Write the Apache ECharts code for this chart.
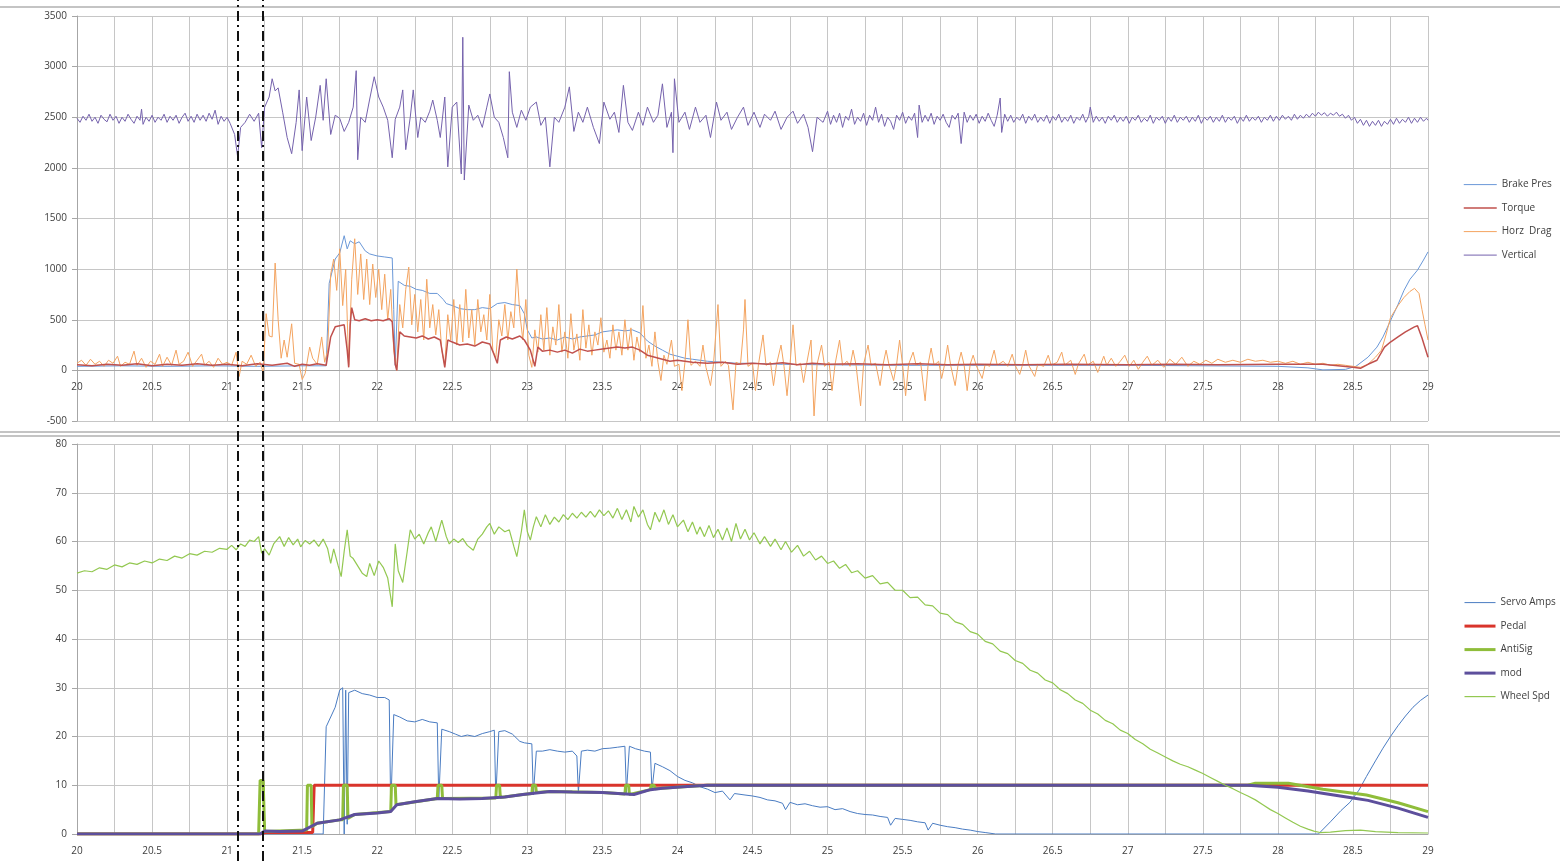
<!DOCTYPE html>
<html>
<head>
<meta charset="utf-8">
<title>Brake test traces</title>
<script src="https://cdn.jsdelivr.net/npm/echarts@6/dist/echarts.min.js"></script>
<style>
  html, body { margin: 0; padding: 0; background: #fff; }
  #main { width: 1560px; height: 861px; }
</style>
</head>
<body>
<div id="main"></div>
<script>
// legend names
var topNames = ['Brake Pres', 'Torque', 'Horz  Drag', 'Vertical'];
var bottomNames = ['Servo Amps', 'Pedal', 'AntiSig', 'mod', 'Wheel Spd'];

// the two dash-dot event markers (time)
var eventTimes = [21.07, 21.24];

// top panel  [time, value]
var brakePres = [[20.00,40],[20.3,45],[20.6,40],[20.9,45],[21.2,40],[21.5,45],[21.66,45],[21.68,860],[21.72,1100],[21.75,1160],[21.78,1330],[21.80,1200],[21.82,1280],[21.85,1250],[21.88,1270],[21.92,1180],[21.95,1150],[22.00,1130],[22.05,1120],[22.10,1110],[22.11,600],[22.12,50],[22.14,880],[22.18,840],[22.22,830],[22.26,800],[22.30,790],[22.35,760],[22.40,760],[22.44,700],[22.46,660],[22.50,640],[22.55,610],[22.60,600],[22.65,600],[22.70,620],[22.75,610],[22.80,660],[22.85,670],[22.90,650],[22.95,640],[22.98,560],[23.00,400],[23.03,320],[23.06,330],[23.10,310],[23.15,320],[23.20,300],[23.25,330],[23.30,310],[23.35,330],[23.40,340],[23.45,350],[23.50,380],[23.55,390],[23.60,400],[23.65,390],[23.70,400],[23.75,370],[23.80,290],[23.85,240],[23.90,200],[23.95,160],[24.00,140],[24.05,120],[24.10,110],[24.20,90],[24.30,80],[24.40,70],[24.50,70],[24.7,60],[25.0,55],[25.5,50],[26.0,50],[26.5,50],[27.0,50],[27.5,45],[28.0,40],[28.2,25],[28.3,5],[28.45,10],[28.52,40],[28.60,130],[28.66,230],[28.70,330],[28.75,490],[28.80,650],[28.84,790],[28.88,900],[28.93,990],[28.97,1090],[29.00,1170]];

var torque = [[20.00,55],[20.1,45],[20.2,60],[20.3,50],[20.4,65],[20.5,45],[20.6,60],[20.7,50],[20.8,65],[20.9,50],[21.0,60],[21.1,45],[21.2,65],[21.3,50],[21.4,70],[21.45,40],[21.5,60],[21.55,50],[21.6,65],[21.66,50],[21.69,330],[21.72,430],[21.75,440],[21.78,450],[21.80,200],[21.81,30],[21.82,450],[21.83,620],[21.85,500],[21.88,490],[21.92,510],[21.96,490],[22.00,500],[22.04,490],[22.08,510],[22.10,480],[22.12,60],[22.13,0],[22.15,380],[22.18,340],[22.22,330],[22.26,320],[22.30,340],[22.34,310],[22.38,330],[22.42,300],[22.44,120],[22.45,30],[22.47,300],[22.50,280],[22.55,250],[22.60,260],[22.65,240],[22.70,280],[22.75,260],[22.78,150],[22.80,70],[22.82,300],[22.86,330],[22.90,310],[22.95,340],[22.98,300],[23.02,200],[23.05,40],[23.07,230],[23.10,190],[23.15,200],[23.20,180],[23.25,200],[23.30,170],[23.35,210],[23.40,190],[23.45,200],[23.50,210],[23.55,220],[23.60,230],[23.65,220],[23.70,230],[23.75,200],[23.80,150],[23.85,130],[23.90,110],[23.95,90],[24.00,100],[24.10,80],[24.20,70],[24.30,80],[24.40,60],[24.50,70],[24.6,60],[24.7,75],[24.8,55],[24.9,70],[25.0,60],[25.2,65],[25.4,55],[25.6,65],[25.8,55],[26.0,60],[26.3,55],[26.6,60],[27.0,55],[27.3,60],[27.6,55],[28.0,60],[28.3,60],[28.5,30],[28.55,20],[28.6,60],[28.66,100],[28.71,230],[28.75,280],[28.80,330],[28.85,380],[28.91,430],[28.93,440],[28.96,320],[29.00,130]];

var horzDrag = [[20.00,70],[20.03,100],[20.06,50],[20.09,110],[20.12,60],[20.15,90],[20.18,40],[20.21,100],[20.24,70],[20.27,140],[20.29,40],[20.32,80],[20.35,60],[20.38,190],[20.40,50],[20.43,120],[20.46,30],[20.49,90],[20.52,60],[20.55,160],[20.57,40],[20.60,130],[20.63,50],[20.66,200],[20.68,60],[20.71,90],[20.74,180],[20.77,40],[20.80,100],[20.83,160],[20.85,50],[20.88,90],[20.91,30],[20.94,120],[20.97,60],[21.00,80],[21.03,50],[21.06,180],[21.08,-60],[21.10,90],[21.13,60],[21.16,150],[21.19,40],[21.22,80],[21.24,-20],[21.26,560],[21.28,340],[21.30,330],[21.32,1060],[21.34,500],[21.36,120],[21.38,300],[21.40,130],[21.43,460],[21.45,70],[21.48,60],[21.50,-90],[21.52,-30],[21.55,230],[21.57,120],[21.60,60],[21.63,330],[21.65,80],[21.67,200],[21.69,950],[21.71,1100],[21.73,790],[21.75,1200],[21.77,640],[21.79,1000],[21.81,50],[21.83,900],[21.85,1300],[21.87,750],[21.89,1150],[21.91,700],[21.93,1100],[21.95,650],[21.97,1050],[21.99,720],[22.01,1000],[22.03,600],[22.05,950],[22.07,500],[22.09,800],[22.11,200],[22.13,0],[22.15,650],[22.17,420],[22.19,800],[22.21,1020],[22.23,450],[22.25,750],[22.27,380],[22.29,700],[22.31,300],[22.33,900],[22.35,420],[22.37,650],[22.39,350],[22.41,600],[22.43,200],[22.45,50],[22.47,550],[22.49,300],[22.51,700],[22.53,250],[22.55,650],[22.57,280],[22.59,800],[22.61,320],[22.63,600],[22.65,250],[22.67,700],[22.69,380],[22.71,550],[22.73,300],[22.75,750],[22.77,200],[22.79,120],[22.81,500],[22.83,340],[22.85,650],[22.87,300],[22.89,580],[22.91,420],[22.93,1000],[22.95,560],[22.97,300],[22.99,700],[23.01,150],[23.03,30],[23.05,400],[23.07,180],[23.09,550],[23.11,200],[23.13,620],[23.15,150],[23.17,430],[23.19,250],[23.21,650],[23.23,180],[23.25,380],[23.27,120],[23.29,560],[23.31,200],[23.33,360],[23.35,100],[23.37,600],[23.39,220],[23.41,450],[23.43,150],[23.45,380],[23.47,250],[23.49,520],[23.51,180],[23.53,300],[23.55,120],[23.57,450],[23.59,200],[23.61,380],[23.63,150],[23.65,500],[23.67,200],[23.69,420],[23.71,100],[23.73,330],[23.75,180],[23.77,640],[23.79,120],[23.81,250],[23.83,40],[23.85,380],[23.87,80],[23.89,-100],[23.91,150],[23.93,60],[23.96,300],[23.98,40],[24.01,60],[24.03,-200],[24.05,80],[24.07,500],[24.09,50],[24.12,90],[24.15,40],[24.17,250],[24.19,30],[24.22,-150],[24.24,60],[24.27,650],[24.29,40],[24.32,90],[24.34,50],[24.37,-390],[24.39,80],[24.42,60],[24.44,400],[24.45,700],[24.47,40],[24.50,70],[24.52,-200],[24.54,60],[24.57,350],[24.59,50],[24.62,80],[24.64,-150],[24.66,60],[24.69,250],[24.71,40],[24.73,-250],[24.75,60],[24.77,450],[24.79,50],[24.82,70],[24.84,-120],[24.86,60],[24.89,300],[24.91,-450],[24.93,60],[24.96,250],[24.98,40],[25.01,80],[25.03,-200],[25.05,60],[25.08,300],[25.10,50],[25.13,90],[25.15,40],[25.17,200],[25.19,50],[25.22,-350],[25.24,60],[25.27,250],[25.29,50],[25.32,70],[25.35,-150],[25.37,60],[25.39,200],[25.41,50],[25.44,-100],[25.46,60],[25.48,300],[25.50,50],[25.52,-250],[25.54,60],[25.57,180],[25.59,50],[25.62,80],[25.65,-300],[25.67,60],[25.69,220],[25.71,50],[25.74,90],[25.76,-80],[25.78,60],[25.80,250],[25.82,50],[25.85,-150],[25.87,60],[25.89,180],[25.91,50],[25.93,-200],[25.95,60],[25.97,150],[25.99,50],[26.03,-80],[26.05,60],[26.08,40],[26.11,200],[26.13,50],[26.17,90],[26.20,40],[26.23,160],[26.25,50],[26.28,-40],[26.30,60],[26.32,200],[26.34,50],[26.38,-60],[26.40,60],[26.44,40],[26.47,150],[26.49,50],[26.53,80],[26.56,180],[26.58,50],[26.62,100],[26.65,-40],[26.67,60],[26.71,160],[26.73,50],[26.77,90],[26.80,-20],[26.82,60],[26.84,140],[26.86,50],[26.89,120],[26.92,40],[26.95,90],[26.98,150],[27.01,40],[27.04,100],[27.07,10],[27.10,80],[27.13,140],[27.16,50],[27.20,100],[27.24,30],[27.28,110],[27.32,60],[27.36,130],[27.40,40],[27.44,90],[27.48,60],[27.52,100],[27.56,70],[27.60,110],[27.65,80],[27.70,100],[27.75,80],[27.80,110],[27.85,90],[27.90,100],[27.95,80],[28.00,90],[28.05,70],[28.10,90],[28.15,60],[28.20,80],[28.25,60],[28.30,70],[28.35,50],[28.40,60],[28.45,50],[28.50,40],[28.55,30],[28.60,60],[28.65,130],[28.69,200],[28.72,350],[28.75,520],[28.80,640],[28.84,720],[28.88,780],[28.91,810],[28.94,760],[28.96,600],[28.98,450],[29.00,300]];

var vertical = [[20.00,2490],[20.02,2450],[20.04,2510],[20.06,2470],[20.08,2530],[20.10,2460],[20.12,2500],[20.14,2440],[20.16,2520],[20.18,2480],[20.20,2455],[20.22,2530],[20.24,2470],[20.26,2510],[20.28,2440],[20.30,2500],[20.32,2460],[20.34,2530],[20.36,2480],[20.38,2440],[20.40,2510],[20.42,2470],[20.43,2580],[20.44,2430],[20.46,2500],[20.48,2460],[20.50,2520],[20.52,2450],[20.54,2500],[20.56,2470],[20.58,2530],[20.60,2450],[20.62,2510],[20.64,2470],[20.66,2520],[20.68,2440],[20.70,2500],[20.72,2540],[20.74,2460],[20.76,2510],[20.78,2450],[20.80,2530],[20.82,2470],[20.84,2520],[20.86,2460],[20.88,2540],[20.90,2480],[20.92,2570],[20.94,2430],[20.96,2510],[20.98,2460],[21.00,2500],[21.02,2440],[21.05,2330],[21.07,2110],[21.09,2400],[21.12,2450],[21.15,2530],[21.18,2460],[21.21,2540],[21.23,2200],[21.25,2600],[21.28,2700],[21.30,2880],[21.32,2760],[21.34,2790],[21.37,2550],[21.40,2300],[21.43,2140],[21.46,2450],[21.48,2770],[21.50,2170],[21.53,2700],[21.56,2270],[21.59,2500],[21.62,2815],[21.64,2470],[21.66,2880],[21.69,2330],[21.72,2520],[21.75,2490],[21.78,2360],[21.81,2450],[21.84,2600],[21.86,2960],[21.87,2080],[21.89,2500],[21.92,2450],[21.95,2680],[21.98,2900],[22.01,2700],[22.04,2600],[22.07,2470],[22.10,2100],[22.12,2480],[22.15,2600],[22.17,2770],[22.19,2180],[22.22,2500],[22.24,2770],[22.27,2300],[22.29,2500],[22.32,2450],[22.35,2560],[22.37,2670],[22.40,2470],[22.42,2300],[22.45,2700],[22.47,2010],[22.50,2600],[22.53,2650],[22.56,1940],[22.57,3290],[22.58,1880],[22.61,2620],[22.64,2470],[22.67,2520],[22.70,2400],[22.73,2600],[22.75,2730],[22.78,2500],[22.81,2450],[22.84,2300],[22.87,2100],[22.88,2950],[22.90,2550],[22.93,2400],[22.96,2570],[22.99,2470],[23.02,2600],[23.06,2650],[23.09,2420],[23.12,2500],[23.15,2010],[23.18,2500],[23.21,2450],[23.25,2600],[23.28,2800],[23.31,2360],[23.34,2550],[23.37,2450],[23.40,2600],[23.44,2400],[23.48,2240],[23.51,2650],[23.55,2480],[23.58,2550],[23.61,2350],[23.64,2815],[23.67,2450],[23.70,2370],[23.74,2550],[23.77,2420],[23.80,2600],[23.84,2450],[23.87,2520],[23.90,2830],[23.93,2400],[23.96,2550],[23.97,2150],[23.98,2880],[24.01,2450],[24.05,2550],[24.08,2380],[24.12,2600],[24.15,2450],[24.19,2520],[24.22,2300],[24.26,2650],[24.29,2470],[24.33,2550],[24.36,2380],[24.40,2500],[24.44,2600],[24.47,2420],[24.51,2550],[24.55,2400],[24.58,2530],[24.62,2470],[24.65,2560],[24.69,2380],[24.73,2500],[24.77,2560],[24.80,2440],[24.84,2530],[24.87,2400],[24.90,2160],[24.93,2500],[24.97,2450],[25.00,2560],[25.02,2430],[25.04,2520],[25.06,2450],[25.08,2540],[25.10,2400],[25.12,2510],[25.14,2470],[25.16,2580],[25.18,2430],[25.20,2500],[25.22,2460],[25.24,2540],[25.26,2420],[25.28,2520],[25.30,2470],[25.32,2600],[25.34,2450],[25.36,2530],[25.38,2410],[25.40,2500],[25.42,2460],[25.44,2380],[25.46,2520],[25.48,2470],[25.50,2550],[25.52,2440],[25.54,2510],[25.56,2470],[25.58,2540],[25.60,2300],[25.61,2620],[25.63,2450],[25.65,2520],[25.67,2460],[25.69,2540],[25.71,2430],[25.73,2510],[25.75,2470],[25.77,2530],[25.79,2450],[25.81,2400],[25.83,2520],[25.85,2480],[25.87,2540],[25.89,2240],[25.91,2550],[25.93,2450],[25.95,2520],[25.97,2470],[25.99,2530],[26.01,2440],[26.03,2510],[26.05,2460],[26.07,2540],[26.09,2470],[26.11,2410],[26.13,2520],[26.15,2690],[26.16,2350],[26.18,2530],[26.20,2460],[26.22,2520],[26.24,2450],[26.26,2500],[26.28,2470],[26.30,2530],[26.32,2440],[26.34,2510],[26.36,2470],[26.38,2530],[26.40,2450],[26.42,2500],[26.44,2460],[26.46,2520],[26.48,2440],[26.50,2510],[26.52,2470],[26.54,2530],[26.56,2450],[26.58,2500],[26.60,2460],[26.62,2520],[26.64,2440],[26.66,2500],[26.68,2470],[26.70,2530],[26.72,2450],[26.74,2510],[26.75,2600],[26.77,2450],[26.79,2510],[26.81,2460],[26.83,2500],[26.85,2440],[26.87,2510],[26.89,2470],[26.91,2520],[26.93,2450],[26.95,2500],[26.97,2460],[26.99,2510],[27.01,2440],[27.03,2500],[27.05,2470],[27.07,2520],[27.09,2450],[27.11,2490],[27.13,2460],[27.15,2520],[27.17,2440],[27.19,2500],[27.21,2470],[27.23,2510],[27.25,2440],[27.27,2500],[27.29,2460],[27.31,2520],[27.33,2450],[27.35,2500],[27.37,2470],[27.39,2510],[27.41,2450],[27.43,2500],[27.45,2460],[27.47,2520],[27.49,2440],[27.51,2500],[27.53,2470],[27.55,2510],[27.57,2450],[27.59,2500],[27.61,2460],[27.63,2520],[27.65,2450],[27.67,2500],[27.69,2470],[27.71,2510],[27.73,2440],[27.75,2500],[27.77,2460],[27.79,2520],[27.81,2460],[27.83,2500],[27.85,2470],[27.87,2510],[27.89,2450],[27.91,2500],[27.93,2470],[27.95,2520],[27.97,2460],[27.99,2510],[28.01,2470],[28.03,2520],[28.05,2480],[28.07,2510],[28.09,2470],[28.11,2530],[28.13,2480],[28.15,2520],[28.17,2490],[28.19,2530],[28.21,2500],[28.23,2540],[28.25,2510],[28.27,2550],[28.29,2520],[28.31,2545],[28.33,2510],[28.35,2540],[28.37,2520],[28.39,2550],[28.41,2510],[28.43,2530],[28.45,2490],[28.47,2520],[28.49,2470],[28.51,2500],[28.53,2440],[28.55,2480],[28.57,2420],[28.59,2470],[28.61,2410],[28.63,2460],[28.65,2420],[28.67,2470],[28.69,2410],[28.71,2460],[28.73,2430],[28.75,2480],[28.77,2430],[28.79,2490],[28.81,2440],[28.83,2480],[28.85,2450],[28.87,2500],[28.89,2440],[28.91,2490],[28.93,2450],[28.95,2500],[28.97,2460],[28.99,2490],[29.00,2470]];

// bottom panel [time, value]
var servoAmps = [[20,0],[21.64,0],[21.66,22],[21.69,24],[21.72,26],[21.75,29.5],[21.77,30],[21.78,0],[21.79,29.5],[21.80,2],[21.81,29],[21.85,29.5],[21.9,28.8],[21.95,28.5],[22.0,28],[22.05,28],[22.08,27.5],[22.09,5],[22.11,24.5],[22.15,24],[22.2,23.2],[22.25,23],[22.3,23.5],[22.35,23],[22.40,22.8],[22.41,7],[22.43,21.5],[22.48,21],[22.52,20.5],[22.56,20],[22.6,20.3],[22.65,20],[22.7,20.6],[22.75,21],[22.78,21.3],[22.79,7.5],[22.81,21],[22.85,21.2],[22.9,20.5],[22.95,19],[22.98,18.7],[23.03,18.5],[23.04,8],[23.06,17],[23.1,17],[23.15,17.3],[23.2,17],[23.25,16.8],[23.3,17],[23.33,16],[23.34,8.5],[23.36,17],[23.4,17.2],[23.45,17],[23.5,17.5],[23.55,17.6],[23.6,17.8],[23.65,18],[23.66,8.5],[23.68,18],[23.72,17.5],[23.78,17],[23.82,16.8],[23.83,9],[23.85,14.5],[23.9,13.8],[23.95,13],[24.0,11.8],[24.05,11],[24.1,10.5],[24.15,9.7],[24.2,9.2],[24.25,8.5],[24.3,8.8],[24.35,7],[24.38,8.3],[24.45,8],[24.5,7.8],[24.55,7.5],[24.6,7],[24.65,6.8],[24.7,6.3],[24.72,5],[24.75,6.5],[24.8,6],[24.85,6.2],[24.9,5.8],[24.95,5.5],[25.0,5.6],[25.05,5],[25.1,5.2],[25.15,4.6],[25.2,4.2],[25.25,4],[25.3,3.9],[25.35,3.6],[25.4,3.4],[25.42,1.8],[25.45,3.2],[25.5,3],[25.55,2.8],[25.6,2.5],[25.65,2.3],[25.67,0.8],[25.7,2.2],[25.75,1.8],[25.8,1.5],[25.85,1.3],[25.9,1.0],[25.95,0.8],[26.0,0.5],[26.05,0.3],[26.12,0],[28.27,0],[28.35,2.5],[28.42,4.8],[28.48,6.5],[28.54,9],[28.59,11.8],[28.65,15],[28.7,17.6],[28.75,20],[28.8,22.2],[28.85,24.2],[28.9,26],[28.95,27.4],[29.0,28.5]];

var pedal = [[20,0],[21.22,0],[21.25,0.3],[21.57,0.3],[21.58,10],[29,10]];

var antiSig = [[20,0],[21.21,0],[21.22,11],[21.24,11],[21.25,0.5],[21.53,0.8],[21.535,10],[21.56,10],[21.565,1.5],[21.6,2.2],[21.75,2.9],[21.77,2.9],[21.775,10],[21.80,10],[21.805,3.2],[21.85,4],[22.09,4.6],[22.095,10],[22.12,10],[22.125,6],[22.40,7.3],[22.405,10],[22.43,10],[22.435,7.3],[22.79,7.4],[22.795,10],[22.815,10],[22.82,7.5],[22.97,8.1],[23.03,8.3],[23.035,10],[23.055,10],[23.06,8.5],[23.15,8.7],[23.5,8.5],[23.65,8.2],[23.655,10],[23.675,10],[23.68,8.1],[23.82,9.1],[23.825,10],[23.845,10],[23.85,9.3],[24.04,9.7],[24.2,10],[27.8,10],[27.85,10.4],[28.07,10.4],[28.3,9.2],[28.59,8.0],[28.8,6.4],[29.0,4.6]];

var modSig = [[20,0],[21.22,0],[21.25,0.6],[21.35,0.5],[21.5,0.6],[21.6,2.2],[21.75,2.9],[21.85,4],[22.0,4.3],[22.09,4.6],[22.13,6],[22.25,6.6],[22.4,7.3],[22.55,7.2],[22.7,7.3],[22.85,7.6],[22.97,8.1],[23.15,8.7],[23.3,8.6],[23.5,8.5],[23.71,8.1],[23.82,9.1],[23.9,9.4],[24.04,9.7],[24.2,10],[27.8,10],[28.0,9.6],[28.2,8.8],[28.5,7.4],[28.6,6.9],[28.8,5.3],[29.0,3.4]];

var wheelSpd = [[20.00,53.5],[20.05,54],[20.10,53.8],[20.15,54.6],[20.20,54.3],[20.25,55.2],[20.30,54.8],[20.35,55.6],[20.40,55.3],[20.45,56.0],[20.50,55.6],[20.55,56.4],[20.60,56.1],[20.65,57.0],[20.70,56.6],[20.75,57.5],[20.80,57.2],[20.85,58.0],[20.90,57.8],[20.95,58.6],[21.00,58.4],[21.03,59.2],[21.06,58.3],[21.09,59.5],[21.12,59.0],[21.15,60.3],[21.18,60.0],[21.21,61.0],[21.23,57.6],[21.25,58.5],[21.28,57.2],[21.31,59.5],[21.35,61.0],[21.38,59.0],[21.41,60.8],[21.44,59.3],[21.47,60.5],[21.49,58.9],[21.52,60.2],[21.55,59.5],[21.58,60.3],[21.61,59.0],[21.64,60.5],[21.67,58.5],[21.69,55.5],[21.71,58.5],[21.74,55.0],[21.76,52.8],[21.78,58.0],[21.80,62.4],[21.82,57.0],[21.84,56.5],[21.87,55.0],[21.90,53.5],[21.93,52.8],[21.95,55.5],[21.98,53.0],[22.01,56.0],[22.04,54.7],[22.07,52.5],[22.10,46.6],[22.12,59.5],[22.14,54.0],[22.17,51.6],[22.20,58.0],[22.22,62.4],[22.25,60.5],[22.28,61.5],[22.31,59.5],[22.34,61.8],[22.36,63.0],[22.39,60.0],[22.43,64.4],[22.46,61.0],[22.48,59.5],[22.51,60.5],[22.54,59.8],[22.57,60.6],[22.60,59.2],[22.64,58.2],[22.67,60.5],[22.70,61.5],[22.73,63.0],[22.75,63.7],[22.78,61.5],[22.81,63.0],[22.85,62.0],[22.88,62.4],[22.91,59.0],[22.93,56.9],[22.96,62.0],[22.98,66.5],[23.00,62.0],[23.02,60.3],[23.04,63.0],[23.06,65.1],[23.09,63.0],[23.12,65.5],[23.15,63.5],[23.18,65.0],[23.21,64.0],[23.24,65.5],[23.27,64.5],[23.30,65.8],[23.33,64.8],[23.36,66.0],[23.39,65.0],[23.42,66.2],[23.45,65.0],[23.48,66.5],[23.51,65.3],[23.54,66.3],[23.57,64.8],[23.60,66.8],[23.63,64.5],[23.66,66.5],[23.69,64.0],[23.71,67.2],[23.74,65.0],[23.77,66.5],[23.80,63.5],[23.82,62.4],[23.85,66.0],[23.88,64.0],[23.91,66.5],[23.94,63.5],[23.97,65.5],[24.00,63.0],[24.04,64.4],[24.07,62.0],[24.10,64.0],[24.13,61.5],[24.15,63.0],[24.18,61.0],[24.21,63.3],[24.24,60.8],[24.27,62.5],[24.30,60.3],[24.33,62.8],[24.36,60.0],[24.39,63.7],[24.42,60.5],[24.45,62.5],[24.48,60.3],[24.51,61.8],[24.55,59.5],[24.58,61.0],[24.62,59.0],[24.65,60.5],[24.69,58.3],[24.72,60.0],[24.76,57.8],[24.80,59.2],[24.84,57.0],[24.88,58.0],[24.92,56.2],[24.96,57.0],[25.00,55.5],[25.04,56.0],[25.08,54.5],[25.12,55.3],[25.16,53.6],[25.20,54.0],[25.25,52.5],[25.30,53.0],[25.35,51.3],[25.40,51.6],[25.45,50.0],[25.50,50.0],[25.55,48.5],[25.60,48.6],[25.65,47.0],[25.70,46.8],[25.75,45.3],[25.80,45.0],[25.85,43.5],[25.90,43.0],[25.95,41.5],[26.00,41.0],[26.05,39.5],[26.10,39.0],[26.15,37.5],[26.20,37.0],[26.25,35.6],[26.30,35.0],[26.35,33.6],[26.40,33.0],[26.45,31.6],[26.50,31.0],[26.55,29.6],[26.60,28.8],[26.65,27.5],[26.70,26.8],[26.75,25.4],[26.80,24.6],[26.85,23.3],[26.90,22.6],[26.95,21.3],[27.00,20.6],[27.05,19.4],[27.10,18.5],[27.15,17.4],[27.20,16.6],[27.25,15.8],[27.30,15.0],[27.35,14.3],[27.40,13.8],[27.45,13.1],[27.50,12.4],[27.55,11.6],[27.60,10.8],[27.65,10.0],[27.70,9.3],[27.75,8.5],[27.80,7.8],[27.85,7.0],[27.90,6.0],[27.95,5.0],[28.00,4.2],[28.05,3.3],[28.10,2.4],[28.15,1.6],[28.20,1.0],[28.24,0.6],[28.28,0.3],[28.35,0.4],[28.45,0.7],[28.55,0.8],[28.65,0.5],[28.80,0.3],[29.00,0.2]];

var chart = echarts.init(document.getElementById('main'));

var labelFont = { fontSize: 10, color: '#404040', fontFamily: 'Open Sans' };
var gridGrey = '#c6c6c6';

function timeAxis(idx, offset) {
  return {
    gridIndex: idx, type: 'value', min: 20, max: 29, interval: 0.5,
    position: 'bottom', offset: offset,
    axisLine: { onZero: false, lineStyle: { color: '#a6a6a6' } },
    axisTick: { show: false },
    axisLabel: Object.assign({ margin: 12 }, labelFont),
    splitLine: { lineStyle: { color: gridGrey } },
    minorTick: { show: false, splitNumber: 2 },
    minorSplitLine: { show: true, lineStyle: { color: gridGrey } }
  };
}
function valueAxis(idx, min, max, step) {
  return {
    gridIndex: idx, type: 'value', min: min, max: max, interval: step,
    axisLine: { show: true, lineStyle: { color: '#a6a6a6' } },
    axisTick: { show: true, length: 5, lineStyle: { color: '#a6a6a6' } },
    axisLabel: Object.assign({ margin: 10, formatter: function (v) { return String(v); } }, labelFont),
    splitLine: { lineStyle: { color: gridGrey } }
  };
}
function trace(name, data, color, width, axis) {
  return {
    name: name, type: 'line', data: data, xAxisIndex: axis, yAxisIndex: axis,
    symbol: 'none', showSymbol: false, silent: true,
    lineStyle: { color: color, width: width }, itemStyle: { color: color }
  };
}
function legendBox(top, width, gap, names) {
  return {
    orient: 'vertical', left: 1463, top: top, padding: 0,
    itemWidth: width, itemHeight: 14, itemGap: gap,
    selectedMode: false, textStyle: labelFont,
    lineStyle: { width: 'inherit' },
    itemStyle: { color: 'rgba(0,0,0,0)', borderWidth: 0, opacity: 0 },
    data: names
  };
}

chart.setOption({
  animation: false,
  backgroundColor: '#fff',
  grid: [
    { left: 77, right: 132, top: 16, bottom: 440 },
    { left: 77, right: 132, top: 444, bottom: 27 },
    { left: 77, right: 132, top: 0, bottom: 0 }
  ],
  xAxis: [
    timeAxis(0, -51),
    timeAxis(1, 0),
    { gridIndex: 2, type: 'value', min: 20, max: 29, show: false }
  ],
  yAxis: [
    valueAxis(0, -500, 3500, 500),
    valueAxis(1, 0, 80, 10),
    { gridIndex: 2, type: 'value', min: 0, max: 1, show: false }
  ],
  legend: [
    legendBox(179, 33, 12.3, topNames),
    legendBox(597, 31, 12.3, bottomNames)
  ],
  graphic: [
    { type: 'line', shape: { x1: 0, y1: 7, x2: 1560, y2: 7 }, style: { stroke: '#c4c4c4', lineWidth: 2 }, silent: true },
    { type: 'line', shape: { x1: 0, y1: 432, x2: 1560, y2: 432 }, style: { stroke: '#c4c4c4', lineWidth: 2 }, silent: true },
    { type: 'line', shape: { x1: 0, y1: 436, x2: 1560, y2: 436 }, style: { stroke: '#c4c4c4', lineWidth: 2 }, silent: true }
  ],
  series: [
    trace(topNames[0], brakePres, '#6a98d8', 1, 0),
    trace(topNames[2], horzDrag, '#f4a460', 1, 0),
    trace(topNames[1], torque, '#c0504d', 1.5, 0),
    trace(topNames[3], vertical, '#7562ad', 1, 0),
    trace(bottomNames[0], servoAmps, '#4a7cc2', 1, 1),
    trace(bottomNames[1], pedal, '#d9342b', 3, 1),
    trace(bottomNames[2], antiSig, '#8fbd3a', 3, 1),
    trace(bottomNames[3], modSig, '#5d4f9c', 3, 1),
    trace(bottomNames[4], wheelSpd, '#93c851', 1.2, 1),
    {
      name: 'events', type: 'line', xAxisIndex: 2, yAxisIndex: 2, data: [[20, 0]],
      symbol: 'none', lineStyle: { opacity: 0 }, silent: true,
      markLine: {
        symbol: 'none', silent: true, label: { show: false },
        lineStyle: { color: '#111', width: 2, type: [10, 4, 2, 4] },
        data: eventTimes.map(function (t) { return { xAxis: t }; })
      }
    }
  ]
});
window.addEventListener('resize', function () { chart.resize(); });
</script>
</body>
</html>
